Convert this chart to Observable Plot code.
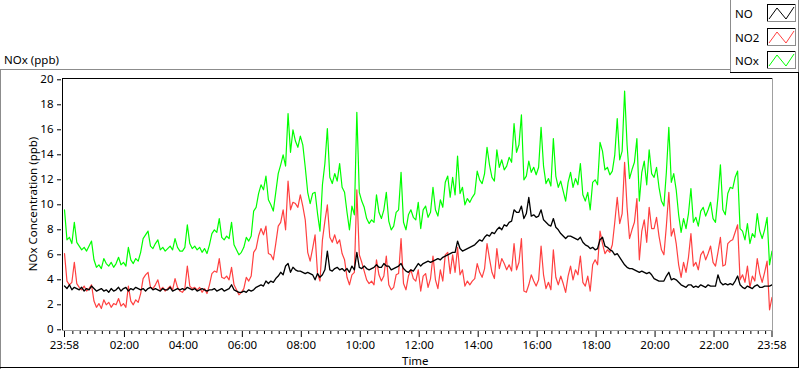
<!DOCTYPE html>
<html><head><meta charset="utf-8">
<script src="https://cdn.jsdelivr.net/npm/d3@7"></script>
<script src="https://cdn.jsdelivr.net/npm/@observablehq/plot@0.6"></script>
<style>
html,body{margin:0;padding:0;background:#fff;}
#wrap{position:relative;width:800px;height:369px;overflow:hidden;font-family:"Noto Sans",sans-serif;}
#wrap svg{position:absolute;left:0;top:0;}
</style></head><body><div id="wrap"></div>
<script>
// ---- data (5-minute readings starting at 23:58) ----
const seriesNames = ["NO", "NO2", "NOx"];
const seriesColors = ["#000000", "#ff4040", "#00ff00"];
const stepMinutes = 5;

const NO = [
3.5,3.3,3.6,3.2,3.4,3.3,3.2,3.4,3.1,3.3,3.2,3.5,
3.3,3.1,3.2,3.3,3.1,3.2,3.0,3.3,3.1,3.2,3.4,3.1,
3.3,3.4,3.1,3.3,3.2,3.4,3.3,3.2,3.3,3.1,3.3,3.4,
3.2,3.3,3.2,3.1,3.3,3.2,3.2,3.4,3.1,3.2,3.3,3.2,
3.3,3.2,3.4,3.3,3.2,3.3,3.1,3.2,3.3,3.2,3.1,3.2,
3.2,3.3,3.1,3.2,3.3,3.1,3.2,3.3,3.6,3.2,3.1,3.0,
3.0,3.1,3.0,3.2,3.1,3.2,3.4,3.5,3.6,3.5,3.9,3.7,
3.9,3.8,4.1,4.3,4.6,4.4,5.1,5.3,4.6,5.0,4.8,4.7,
4.7,4.6,4.5,4.6,4.5,4.4,4.0,4.5,4.2,4.4,4.8,6.3,
4.8,4.7,4.9,5.0,4.8,4.9,4.7,4.9,4.6,5.1,4.8,6.2,
5.0,4.9,5.1,4.9,4.8,4.9,5.0,5.2,5.0,5.0,5.3,5.1,
5.1,4.8,4.9,5.0,5.1,5.3,4.9,4.7,4.6,4.8,4.7,5.0,
5.3,5.1,5.3,5.4,5.5,5.4,5.5,5.6,5.7,5.6,5.8,5.9,
6.0,6.1,6.2,6.2,7.1,6.5,6.3,6.4,6.5,6.6,6.7,6.8,
7.0,7.2,7.1,7.4,7.6,7.5,7.8,7.7,8.0,8.2,8.0,8.4,
8.3,8.6,8.7,9.6,9.4,9.4,9.9,8.9,9.3,10.6,9.1,9.2,
9.0,9.1,9.6,8.8,8.6,8.4,8.3,8.9,8.2,8.0,7.7,7.5,
7.3,7.5,7.5,7.4,7.3,7.2,7.4,7.0,6.8,6.7,6.5,6.6,
6.4,6.5,7.2,7.4,6.7,6.6,6.4,6.3,6.0,6.1,5.8,5.5,
5.2,5.0,4.9,4.9,4.8,4.7,4.6,4.7,4.6,4.5,4.6,4.4,
4.1,4.0,3.9,3.9,3.9,4.3,4.6,4.0,4.1,4.0,3.8,3.6,
3.5,3.4,3.6,3.6,3.4,3.5,3.4,3.6,3.5,3.4,3.6,3.5,
3.5,3.5,4.4,3.8,3.6,3.7,3.6,3.7,3.6,3.9,4.3,3.6,
3.4,3.3,3.5,3.4,3.3,3.5,3.6,3.4,3.4,3.5,3.5,3.5,
3.6];

const NO2 = [
6.1,3.9,3.6,3.8,5.4,3.7,3.4,3.2,3.5,3.1,3.3,3.6,
2.3,1.8,2.1,1.7,2.4,2.0,2.2,1.8,2.1,2.0,2.5,1.9,
2.1,1.8,3.5,2.3,2.0,2.4,2.2,2.9,4.1,4.4,4.6,3.4,
3.3,3.6,4.0,3.2,3.4,3.1,3.3,3.5,3.2,4.1,3.4,3.1,
3.0,3.3,5.1,3.5,3.3,3.4,3.2,3.4,3.0,3.3,2.9,3.6,
4.5,4.7,4.6,5.7,4.2,4.1,4.3,4.0,5.0,3.6,3.2,2.8,
3.0,3.3,4.2,3.9,4.3,6.2,6.5,7.5,8.1,7.6,8.3,6.1,
6.0,5.6,6.9,8.3,8.6,9.6,8.0,11.9,9.6,10.2,10.1,9.8,
10.8,9.9,8.8,6.2,5.5,6.5,7.6,4.5,3.9,7.2,8.7,10.0,
7.4,7.0,7.6,6.9,7.2,6.1,5.6,4.2,3.6,4.4,4.6,11.2,
6.0,5.4,4.7,4.0,3.7,3.9,3.6,5.6,4.4,3.9,4.3,5.9,
3.6,3.2,3.4,4.4,4.5,7.3,3.7,3.2,4.3,4.8,4.1,3.9,
4.8,3.1,4.3,4.5,3.4,4.1,5.9,4.0,3.3,4.8,3.9,6.0,
6.2,4.5,6.0,4.6,6.6,4.4,4.8,3.5,3.9,3.6,3.9,4.1,
5.3,4.6,4.2,4.9,6.9,5.7,4.6,4.1,6.5,4.9,5.7,5.3,
4.8,5.2,4.7,6.9,4.8,5.4,7.3,3.1,3.0,3.6,4.4,3.9,
3.5,4.0,6.7,4.4,3.3,3.8,3.2,6.4,4.2,3.6,4.3,3.7,
3.0,4.3,5.1,4.0,4.8,4.4,5.9,3.8,3.5,4.3,3.1,5.2,
5.6,5.2,7.9,6.9,6.1,6.4,6.2,6.8,8.6,10.6,8.5,9.3,
13.4,9.8,7.3,8.0,8.6,10.5,5.6,7.9,8.8,7.0,9.8,8.1,
8.1,9.0,7.5,6.4,6.0,8.3,11.0,7.5,8.1,6.9,5.2,4.2,
5.4,4.6,5.8,7.7,5.1,5.4,4.8,6.0,6.3,5.6,6.1,6.7,
5.4,5.1,6.2,7.4,5.1,5.2,6.9,7.1,7.2,7.8,8.4,4.0,
4.4,3.8,5.1,3.4,4.3,3.9,5.7,4.5,3.8,4.6,5.5,1.6,
2.6];

const NOx = [
9.6,7.2,7.4,6.9,8.6,7.0,6.7,6.4,6.6,6.3,6.7,7.1,
5.6,5.0,5.2,4.9,5.7,5.3,5.1,5.4,5.0,5.3,5.8,5.2,
5.4,5.1,6.6,5.6,5.3,5.7,5.5,6.2,7.3,7.6,7.9,6.7,
6.5,6.9,7.2,6.4,6.6,6.3,6.5,6.7,6.4,7.3,6.6,6.3,
6.3,6.6,8.4,6.9,6.5,6.7,6.4,6.6,6.2,6.5,6.1,6.8,
7.7,8.0,7.8,8.9,7.4,7.2,7.5,7.3,8.6,6.8,6.4,6.0,
6.2,6.6,7.4,7.1,7.5,9.5,9.8,10.9,11.6,11.2,12.3,10.4,
10.0,9.5,11.0,12.5,13.2,14.0,13.1,17.3,14.2,16.0,15.1,14.6,
15.5,14.8,13.0,11.0,10.1,10.9,11.0,9.3,7.9,11.6,13.3,16.1,
12.2,11.7,12.5,11.9,13.3,11.4,11.0,9.4,8.0,9.9,9.2,17.4,
11.0,10.3,9.8,8.9,8.5,8.8,8.6,10.8,9.4,8.9,9.6,11.0,
8.7,8.0,8.3,9.4,9.6,12.6,8.6,8.0,9.2,9.6,9.0,8.8,
10.2,8.1,9.6,9.9,9.0,9.4,11.4,9.6,9.1,10.4,9.8,11.8,
12.3,10.6,12.2,10.8,13.9,10.9,11.4,10.0,10.5,10.2,10.6,10.9,
12.7,12.0,11.7,12.5,14.6,13.2,12.2,11.9,14.4,13.0,13.6,12.8,
13.1,13.8,13.4,16.5,14.2,14.8,17.2,12.0,12.3,13.5,12.6,13.0,
12.4,13.0,16.2,13.1,11.7,12.1,11.5,15.3,12.3,11.4,11.9,11.1,
10.3,11.8,12.6,11.4,12.1,11.6,13.3,10.8,10.3,11.0,9.6,11.8,
12.0,11.6,15.0,14.3,12.8,13.0,12.4,12.7,14.0,16.9,13.6,14.3,
19.1,14.8,12.1,12.8,13.4,15.3,10.3,12.6,13.5,11.6,14.4,12.5,
12.2,13.0,11.4,10.3,9.9,12.6,16.2,11.8,12.5,11.2,9.2,7.8,
8.9,8.1,9.3,11.3,8.6,9.0,8.3,9.5,9.8,9.1,9.6,10.2,
8.9,8.6,10.6,13.2,9.6,9.2,10.9,11.4,11.3,12.2,12.7,8.1,
7.9,7.2,8.5,6.9,7.7,7.4,9.3,7.9,7.3,8.0,9.0,5.2,
6.3];

const yTicks = [0, 2, 4, 6, 8, 10, 12, 14, 16, 18, 20];
const xTickMinutes = [0, 122, 242, 362, 482, 602, 722, 842, 962, 1082, 1202, 1322, 1440];
const xTickLabels = ["23:58", "02:00", "04:00", "06:00", "08:00", "10:00", "12:00", "14:00", "16:00", "18:00", "20:00", "22:00", "23:58"];
const yTitle = "NOx Concentration (ppb)";
const xTitle = "Time";
const panelTitle = "NOx (ppb)";

// ---- build table ----
const seriesValues = [NO, NO2, NOx];
const rows = seriesValues.map((vals, s) => vals.map((v, i) => ({series: seriesNames[s], minute: i * stepMinutes, value: v})));
const minorTicks = d3.range(2, 1440, 15).filter(m => xTickMinutes.every(t => Math.abs(t - m) > 4));
const FONT = "'Noto Sans', sans-serif";

const chart = Plot.plot({
  width: 800, height: 369,
  marginLeft: 61, marginRight: 28, marginTop: 78, marginBottom: 38,
  x: {domain: [0, 1440], range: [64, 771.5]},
  y: {domain: [0, 20], range: [329.3, 79.3]},
  style: {fontFamily: FONT, fontSize: "11.5px", color: "#000", background: "transparent"},
  marks: [
    Plot.line(rows[2], {x: "minute", y: "value", stroke: seriesColors[2], strokeWidth: 1.2}),
    Plot.line(rows[1], {x: "minute", y: "value", stroke: seriesColors[1], strokeWidth: 1.2}),
    Plot.line(rows[0], {x: "minute", y: "value", stroke: seriesColors[0], strokeWidth: 1.3}),
    Plot.axisY(yTicks, {tickSize: 4, tickPadding: 4, label: null}),
    Plot.axisX(xTickMinutes, {tickSize: 6, tickPadding: 3, label: null,
      tickFormat: d => xTickLabels[xTickMinutes.indexOf(d)]}),
    Plot.axisX(minorTicks, {tickSize: 3, label: null, tickFormat: () => ""})
  ]
});
const wrap = document.getElementById("wrap");
wrap.appendChild(chart);

// ---- decorations: frames, titles, legend ----
const svg = d3.select(wrap).append("svg")
  .attr("width", 800).attr("height", 369)
  .style("font-family", FONT).style("font-size", "11.5px")
  .attr("shape-rendering", "crispEdges");

function seg(x1, y1, x2, y2, c) {
  svg.append("line").attr("x1", x1).attr("y1", y1).attr("x2", x2).attr("y2", y2)
    .attr("stroke", c).attr("stroke-width", 1);
}
// outer panel
seg(0, 69.5, 731, 69.5, "#8c8c8c");
seg(0.5, 69, 0.5, 369, "#8c8c8c");
seg(0, 367.5, 799, 367.5, "#000");
seg(798.5, 72, 798.5, 368, "#000");
// legend box
seg(730.5, 0, 730.5, 73, "#8c8c8c");
seg(730, 72.5, 799, 72.5, "#000");
seg(798.5, 0, 798.5, 72, "#8c8c8c");
// plot area frame
seg(62, 78.5, 773, 78.5, "#000");
seg(62.5, 78, 62.5, 331, "#000");
seg(62, 330.5, 773, 330.5, "#a0a0a0");
seg(772.5, 78, 772.5, 331, "#a0a0a0");

svg.append("text").attr("x", 4).attr("y", 64).attr("fill", "#000").text(panelTitle);
svg.append("text").attr("transform", "translate(37,204) rotate(-90)")
  .attr("text-anchor", "middle").attr("fill", "#000").text(yTitle);
svg.append("text").attr("x", 402).attr("y", 365).attr("fill", "#000").text(xTitle);

const legendY = [4, 28, 51];
seriesNames.forEach((name, i) => {
  const y0 = legendY[i];
  svg.append("text").attr("x", 735).attr("y", y0 + 14).attr("fill", "#000").text(name);
  const x0 = 767;
  svg.append("rect").attr("x", x0 + 0.5).attr("y", y0 + 0.5).attr("width", 28).attr("height", 17)
    .attr("fill", "#fff").attr("stroke", "none");
  seg(x0, y0 + 0.5, x0 + 29, y0 + 0.5, "#000");
  seg(x0 + 0.5, y0, x0 + 0.5, y0 + 18, "#000");
  seg(x0, y0 + 17.5, x0 + 29, y0 + 17.5, "#8c8c8c");
  seg(x0 + 28.5, y0, x0 + 28.5, y0 + 18, "#8c8c8c");
  svg.append("polyline")
    .attr("points", `${x0 + 2},${y0 + 15} ${x0 + 10},${y0 + 4} ${x0 + 19},${y0 + 15} ${x0 + 27},${y0 + 3}`)
    .attr("fill", "none").attr("stroke", seriesColors[i]).attr("stroke-width", 1)
    .attr("shape-rendering", "auto");
});
</script>
</body></html>
